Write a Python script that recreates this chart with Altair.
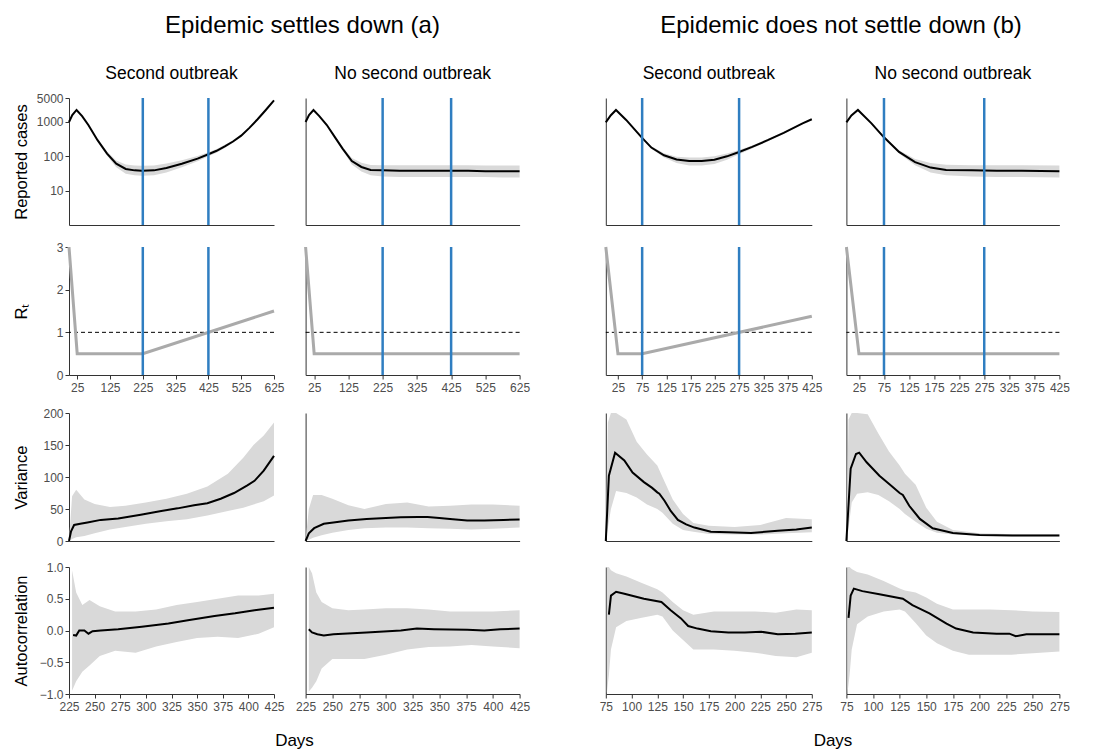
import altair as alt
import pandas as pd

# ---------------- values ----------------
# Row 1: reported cases (log scale)
A1C_DAY = [0, 10, 23, 40, 59, 87, 116, 144, 173, 200, 222, 259, 297, 344, 392, 425, 450, 475, 500, 525, 550, 575, 600, 625]
A1C_MEAN = [1000, 1600, 2240, 1480, 815, 295, 120, 61, 43, 39, 38, 39, 46, 61, 86, 115, 145, 195, 270, 400, 675, 1200, 2240, 4250]
A1C_LO = [960, 1540, 2160, 1420, 775, 270, 104, 48, 31, 28, 27, 28, 34, 48, 72, 100, 128, 176, 247, 372, 640, 1150, 2160, 4100]
A1C_HI = [1040, 1660, 2320, 1540, 855, 320, 138, 76, 58, 54, 53, 54, 62, 77, 102, 132, 164, 216, 295, 430, 710, 1250, 2320, 4400]

A2C_DAY = [0, 10, 23, 40, 62, 85, 108, 135, 163, 190, 225, 275, 325, 375, 425, 475, 525, 575, 625]
A2C_MEAN = [1000, 1600, 2240, 1480, 815, 370, 168, 73, 49, 40, 39, 38, 38, 38, 38, 38, 37, 37, 37]
A2C_LO = [960, 1540, 2160, 1420, 775, 340, 150, 58, 36, 28, 26, 25, 25, 25, 25, 25, 25, 24, 24]
A2C_HI = [1040, 1660, 2320, 1540, 855, 390, 186, 90, 65, 56, 55, 55, 55, 55, 55, 55, 54, 54, 54]

B1C_DAY = [0, 10, 21, 42, 73, 94, 120, 146, 172, 198, 224, 250, 275, 302, 334, 367, 406, 425]
B1C_MEAN = [980, 1550, 2240, 1150, 370, 180, 107, 81, 73, 73, 80, 100, 134, 188, 295, 485, 915, 1200]
B1C_LO = [940, 1490, 2160, 1100, 350, 165, 92, 64, 54, 54, 60, 80, 115, 168, 272, 455, 875, 1150]
B1C_HI = [1020, 1610, 2320, 1200, 390, 196, 122, 98, 93, 93, 100, 120, 153, 208, 318, 515, 955, 1250]

B2C_DAY = [0, 10, 23, 50, 74, 105, 137, 168, 199, 250, 300, 350, 425]
B2C_MEAN = [980, 1550, 2240, 915, 370, 134, 68, 47, 40, 39, 38, 38, 37]
B2C_LO = [940, 1490, 2160, 875, 350, 120, 55, 34, 28, 26, 25, 25, 24]
B2C_HI = [1020, 1610, 2320, 955, 390, 150, 84, 64, 57, 55, 55, 55, 54]

# Row 2: R_t
A1R_DAY = [0, 25, 225, 625]
A1R_VAL = [3, 0.5, 0.5, 1.5]
A2R_DAY = [0, 25, 625]
A2R_VAL = [3, 0.5, 0.5]
B1R_DAY = [0, 25, 75, 425]
B1R_VAL = [3, 0.5, 0.5, 1.375]
B2R_DAY = [0, 25, 425]
B2R_VAL = [3, 0.5, 0.5]

BLUE_A = [225, 425]
BLUE_B = [75, 275]
RT_ONE = [1.0]

# Row 3: variance
A1V_DAY = [225, 227, 230, 236, 243, 256, 273, 295, 315, 331, 347, 360, 373, 386, 399, 406, 415, 425]
A1V_MEAN = [0, 15, 25, 27, 29, 33, 35, 41, 47, 51, 56, 59, 66, 75, 87, 94, 110, 133]
A1V_BDAY = [225, 228, 232, 240, 250, 265, 280, 300, 320, 340, 360, 380, 395, 405, 415, 425]
A1V_LO = [0, 3, 6, 8, 12, 18, 22, 27, 31, 34, 40, 47, 52, 57, 62, 71]
A1V_HI = [0, 70, 80, 65, 58, 53, 55, 60, 66, 74, 85, 105, 130, 150, 165, 185]

A2V_DAY = [225, 228, 233, 242, 251, 265, 282, 300, 314, 330, 339, 350, 360, 376, 392, 410, 425]
A2V_MEAN = [0, 12, 20, 27, 29, 32, 34.5, 36, 37, 37.5, 37.5, 36, 34.5, 32, 32, 33, 33.5]
A2V_BDAY = [225, 228, 232, 240, 250, 265, 280, 300, 320, 340, 360, 380, 400, 425]
A2V_LO = [0, 2, 5, 9, 13, 17, 20, 21, 21, 20, 19, 18, 19, 21]
A2V_HI = [0, 50, 72, 72, 66, 56, 50, 58, 60, 54, 55, 57, 57, 55]

B1V_DAY = [75, 78, 84, 93, 101, 112, 120, 125, 127, 132, 138, 145, 153, 161, 177, 194, 216, 242, 260, 275]
B1V_MEAN = [0, 102, 138, 126, 107, 92, 83, 76, 74, 63, 47, 33, 26, 21, 14.6, 13.6, 12.5, 16, 18, 21]
B1V_BDAY = [75, 77, 80, 85, 95, 105, 115, 125, 130, 140, 150, 160, 175, 200, 225, 250, 275]
B1V_LO = [0, 20, 50, 78, 75, 68, 57, 50, 44, 27, 17, 14.5, 11, 10, 10, 12, 13.6]
B1V_HI = [0, 185, 200, 200, 190, 155, 135, 118, 100, 65, 42, 28, 24, 22, 25, 36, 34]

B2V_DAY = [75, 79, 84, 87, 94, 106, 116, 125, 128, 134, 144, 156, 175, 200, 231, 275]
B2V_MEAN = [0, 113, 136, 138, 123, 102, 88, 75, 72, 55, 34.5, 20, 12.5, 9.4, 8.4, 8.4]
B2V_BDAY = [75, 77, 80, 85, 95, 105, 115, 125, 130, 140, 150, 160, 175, 200, 225, 250, 275]
B2V_LO = [0, 20, 60, 74, 76, 72, 62, 50, 42, 30, 19, 13, 10, 8.2, 7.5, 7.3, 7.3]
B2V_HI = [0, 190, 200, 200, 198, 168, 140, 118, 105, 88, 52, 30, 17, 12, 11, 11, 11]

# Row 4: autocorrelation
A1A_DAY = [229, 232, 235, 240, 244, 248, 256, 273, 296, 322, 341, 367, 387, 406, 425]
A1A_MEAN = [-0.07, -0.08, 0.0, 0.0, -0.05, -0.01, 0.0, 0.02, 0.06, 0.11, 0.16, 0.23, 0.27, 0.32, 0.36]
A1A_BDAY = [228, 232, 238, 245, 255, 270, 290, 310, 330, 350, 370, 390, 410, 425]
A1A_HI = [0.95, 0.6, 0.4, 0.48, 0.38, 0.3, 0.3, 0.33, 0.4, 0.45, 0.5, 0.55, 0.55, 0.58]
A1A_LO = [-0.95, -0.8, -0.65, -0.55, -0.4, -0.32, -0.35, -0.25, -0.18, -0.12, -0.1, -0.12, -0.05, 0.05]

A2A_DAY = [228, 231, 236, 242, 251, 282, 314, 329, 345, 376, 392, 407, 425]
A2A_MEAN = [0.02, -0.03, -0.06, -0.08, -0.06, -0.03, 0.0, 0.03, 0.02, 0.01, 0.0, 0.02, 0.03]
A2A_BDAY = [228, 231, 235, 240, 250, 265, 280, 300, 320, 340, 360, 380, 400, 425]
A2A_HI = [1.0, 0.9, 0.6, 0.45, 0.35, 0.32, 0.33, 0.35, 0.35, 0.33, 0.3, 0.3, 0.3, 0.32]
A2A_LO = [-0.96, -0.9, -0.8, -0.6, -0.45, -0.45, -0.45, -0.38, -0.3, -0.26, -0.25, -0.23, -0.25, -0.28]

B1A_DAY = [78, 80, 85, 93, 112, 129, 138, 148, 155, 164, 177, 194, 210, 226, 242, 259, 275]
B1A_MEAN = [0.25, 0.55, 0.61, 0.58, 0.50, 0.45, 0.32, 0.19, 0.07, 0.03, -0.01, -0.03, -0.03, -0.02, -0.06, -0.05, -0.03]
B1A_BDAY = [76, 78, 80, 85, 95, 110, 125, 130, 140, 150, 160, 180, 200, 220, 240, 260, 275]
B1A_HI = [1.0, 1.0, 0.95, 0.9, 0.85, 0.75, 0.65, 0.6, 0.45, 0.32, 0.25, 0.3, 0.3, 0.3, 0.28, 0.33, 0.32]
B1A_LO = [-0.99, -0.7, -0.3, 0.05, 0.15, 0.2, 0.25, 0.22, 0.0, -0.15, -0.3, -0.3, -0.32, -0.35, -0.4, -0.42, -0.35]

B2A_DAY = [77, 79, 82, 90, 106, 128, 137, 153, 169, 178, 194, 216, 228, 234, 244, 275]
B2A_MEAN = [0.2, 0.55, 0.66, 0.62, 0.57, 0.50, 0.40, 0.27, 0.11, 0.03, -0.03, -0.05, -0.05, -0.09, -0.06, -0.06]
B2A_BDAY = [76, 78, 80, 85, 95, 110, 125, 130, 140, 150, 160, 175, 190, 210, 230, 250, 275]
B2A_HI = [1.0, 1.0, 0.97, 0.92, 0.88, 0.78, 0.66, 0.63, 0.6, 0.52, 0.42, 0.33, 0.33, 0.33, 0.32, 0.3, 0.29]
B2A_LO = [-0.99, -0.7, -0.3, 0.1, 0.22, 0.3, 0.33, 0.3, 0.12, -0.08, -0.2, -0.32, -0.38, -0.38, -0.38, -0.36, -0.33]

# Axis ticks and labels
A_TOP_TICKS = [25, 125, 225, 325, 425, 525, 625]
B_TOP_TICKS = [25, 75, 125, 175, 225, 275, 325, 375, 425]
A_BOT_TICKS = [225, 250, 275, 300, 325, 350, 375, 400, 425]
B_BOT_TICKS = [75, 100, 125, 150, 175, 200, 225, 250, 275]
CASES_TICKS = [10, 100, 1000, 5000]
RT_TICKS = [0, 1, 2, 3]
VAR_TICKS = [0, 50, 100, 150, 200]
AC_TICKS = [-1.0, -0.5, 0.0, 0.5, 1.0]

TITLE_A = "Epidemic settles down (a)"
TITLE_B = "Epidemic does not settle down (b)"
COL_TITLES = {"A1": "Second outbreak", "A2": "No second outbreak",
              "B1": "Second outbreak", "B2": "No second outbreak"}
X_TITLE = "Days"

# ---------------- styling ----------------
FONT = "Liberation Sans"
BAND = "#d9d9d9"
BLUE = "#2f7ec1"
RT_GREY = "#aaaaaa"
COL_W = {"A1": 205, "A2": 214, "B1": 206, "B2": 213}
ROW_H = {"cases": 127, "rt": 128, "var": 128, "ac": 127}
SPACER_W = 49
COL_TITLE_OFFSET = {"A1": -4, "A2": 0, "B1": 0, "B2": 0}

ROWS = {
    "cases": dict(type="log", domain=[1, 5000], ticks=CASES_TICKS, fmt="d", title="Reported cases"),
    "rt": dict(type="linear", domain=[0, 3], ticks=RT_TICKS, fmt="d", title="Rₜ"),
    "var": dict(type="linear", domain=[0, 200], ticks=VAR_TICKS, fmt="d", title="Variance"),
    "ac": dict(type="linear", domain=[-1, 1], ticks=AC_TICKS, fmt=".1f", title="Autocorrelation"),
}
XCFG = {
    ("cases", "A"): ([0, 625], None, False),
    ("cases", "B"): ([0, 425], None, False),
    ("rt", "A"): ([0, 625], A_TOP_TICKS, True),
    ("rt", "B"): ([0, 425], B_TOP_TICKS, True),
    ("var", "A"): ([225, 425], None, False),
    ("var", "B"): ([75, 275], None, False),
    ("ac", "A"): ([225, 425], A_BOT_TICKS, True),
    ("ac", "B"): ([75, 275], B_BOT_TICKS, True),
}

DATA = {
    ("cases", "A1"): (A1C_DAY, A1C_MEAN, A1C_DAY, A1C_LO, A1C_HI),
    ("cases", "A2"): (A2C_DAY, A2C_MEAN, A2C_DAY, A2C_LO, A2C_HI),
    ("cases", "B1"): (B1C_DAY, B1C_MEAN, B1C_DAY, B1C_LO, B1C_HI),
    ("cases", "B2"): (B2C_DAY, B2C_MEAN, B2C_DAY, B2C_LO, B2C_HI),
    ("var", "A1"): (A1V_DAY, A1V_MEAN, A1V_BDAY, A1V_LO, A1V_HI),
    ("var", "A2"): (A2V_DAY, A2V_MEAN, A2V_BDAY, A2V_LO, A2V_HI),
    ("var", "B1"): (B1V_DAY, B1V_MEAN, B1V_BDAY, B1V_LO, B1V_HI),
    ("var", "B2"): (B2V_DAY, B2V_MEAN, B2V_BDAY, B2V_LO, B2V_HI),
    ("ac", "A1"): (A1A_DAY, A1A_MEAN, A1A_BDAY, A1A_LO, A1A_HI),
    ("ac", "A2"): (A2A_DAY, A2A_MEAN, A2A_BDAY, A2A_LO, A2A_HI),
    ("ac", "B1"): (B1A_DAY, B1A_MEAN, B1A_BDAY, B1A_LO, B1A_HI),
    ("ac", "B2"): (B2A_DAY, B2A_MEAN, B2A_BDAY, B2A_LO, B2A_HI),
}
RT_DATA = {"A1": (A1R_DAY, A1R_VAL), "A2": (A2R_DAY, A2R_VAL),
           "B1": (B1R_DAY, B1R_VAL), "B2": (B2R_DAY, B2R_VAL)}


def x_enc(field, row, grp):
    dom, ticks, labels = XCFG[(row, grp)]
    if labels:
        ax = alt.Axis(values=ticks, title=None, format="d", labelFlush=False,
                      labelOverlap=False, ticks=True, domain=True)
    else:
        ax = alt.Axis(title=None, labels=False, ticks=False, domain=True)
    return alt.X(field, type="quantitative",
                 scale=alt.Scale(domain=dom, nice=False, zero=False), axis=ax)


def y_enc(field, row, key):
    cfg = ROWS[row]
    sc = alt.Scale(type=cfg["type"], domain=cfg["domain"], nice=False, zero=False)
    if key == "A1":
        ax = alt.Axis(values=cfg["ticks"], format=cfg["fmt"], title=cfg["title"],
                      titleX=-48, titleBaseline="middle", labelOverlap=False,
                      labelFlush=False)
    elif key == "B2" and row == "var":
        # blank (invisible) title keeps a little room left of the last column
        ax = alt.Axis(title=" ", titleX=-6, titleBaseline="middle",
                      labels=False, ticks=False, domain=True)
    else:
        ax = alt.Axis(title=None, labels=False, ticks=False, domain=True)
    return alt.Y(field, type="quantitative", scale=sc, axis=ax)


def panel(row, key):
    grp = key[0]
    layers = []
    if row == "rt":
        layers.append(
            alt.Chart(pd.DataFrame({"v": RT_ONE}))
            .mark_rule(color="black", strokeWidth=1, strokeDash=[4, 3])
            .encode(y=y_enc("v", row, key))
        )
        d, v = RT_DATA[key]
        layers.append(
            alt.Chart(pd.DataFrame({"day": d, "v": v}))
            .mark_line(color=RT_GREY, strokeWidth=3)
            .encode(x=x_enc("day", row, grp), y=y_enc("v", row, key))
        )
    else:
        md, mv, bd, lo, hi = DATA[(row, key)]
        layers.append(
            alt.Chart(pd.DataFrame({"day": bd, "lo": lo, "hi": hi}))
            .mark_area(color=BAND, opacity=1)
            .encode(x=x_enc("day", row, grp), y=y_enc("lo", row, key), y2=alt.Y2("hi"))
        )
        layers.append(
            alt.Chart(pd.DataFrame({"day": md, "v": mv}))
            .mark_line(color="black", strokeWidth=2)
            .encode(x=x_enc("day", row, grp), y=y_enc("v", row, key))
        )
    if row in ("cases", "rt"):
        blues = BLUE_A if grp == "A" else BLUE_B
        layers.append(
            alt.Chart(pd.DataFrame({"day": blues}))
            .mark_rule(color=BLUE, strokeWidth=2.5)
            .encode(x=x_enc("day", row, grp))
        )
    props = dict(width=COL_W[key], height=ROW_H[row])
    if row == "cases":
        props["title"] = alt.TitleParams(
            text=COL_TITLES[key], fontSize=17.5, fontWeight="normal", font=FONT,
            anchor="middle", baseline="alphabetic", offset=COL_TITLE_OFFSET[key],
            color="black")
    return alt.layer(*layers).properties(**props)


def blank(w, h, title=None):
    c = (alt.Chart(pd.DataFrame({"v": [0]}))
         .mark_point(opacity=0, size=1)
         .encode(x=alt.X("v:Q", axis=None, scale=alt.Scale(domain=[-1, 1])),
                 y=alt.Y("v:Q", axis=None, scale=alt.Scale(domain=[0, 1]))))
    props = dict(width=w, height=h)
    if title is not None:
        props["title"] = title
    return c.properties(**props)


cells = []
for row in ["cases", "rt", "var", "ac"]:
    cells.append(panel(row, "A1"))
    cells.append(panel(row, "A2"))
    cells.append(blank(SPACER_W, ROW_H[row]))
    cells.append(panel(row, "B1"))
    cells.append(panel(row, "B2"))

grid = alt.concat(*cells, columns=5, spacing={"row": 14, "column": 9.6})

WA = COL_W["A1"] + 32 + COL_W["A2"]
WB = COL_W["B1"] + 33 + COL_W["B2"]


def head_title(txt, size, dx, offset):
    return alt.TitleParams(text=txt, fontSize=size, fontWeight="normal", font=FONT,
                           anchor="middle", baseline="alphabetic", offset=offset,
                           dx=dx, color="black")


header = alt.hconcat(
    blank(WA, 6, head_title(TITLE_A, 24, 8, 0)),
    blank(WB, 6, head_title(TITLE_B, 24, 8, 0)),
    spacing=87,
)
footer = alt.hconcat(
    blank(WA, 1, head_title(X_TITLE, 17, 0, -50.5)),
    blank(WB, 1, head_title(X_TITLE, 17, 0, -50.5)),
    spacing=87,
)

chart = (
    alt.vconcat(header, grid, footer, spacing=0)
    .properties(padding={"left": 4, "top": 6, "right": 2, "bottom": 0})
    .configure(font=FONT)
    .configure_view(stroke=None)
    .configure_axis(
        grid=False, labelFont=FONT, labelFontSize=12, labelColor="#4d4d4d",
        titleFont=FONT, titleFontSize=16.5, titleColor="black", titleFontWeight="normal",
        domainColor="#333333", domainWidth=1, tickColor="#333333", tickSize=4,
        labelPadding=2,
    )
    .configure_axisX(labelPadding=3)
)

chart.save("out.html", embed_options={"renderer": "svg", "actions": False})
